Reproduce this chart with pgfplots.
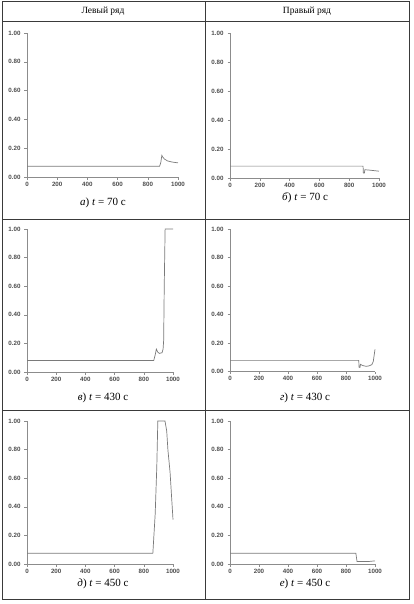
\documentclass[border=0pt]{standalone}
\usepackage{fontspec}
\setmainfont{Liberation Serif}
\newfontfamily\ticksf{Liberation Sans}
\usepackage{pgfplots}
\pgfplotsset{compat=1.18}

\definecolor{curve}{HTML}{7A7A7A}
\definecolor{axisgray}{HTML}{8C8C8C}
\definecolor{rule}{HTML}{3A3A3A}

\pgfplotsset{
  panel/.style={
    scale only axis,
    anchor=south west,
    xmin=0, xmax=1000, ymin=0, ymax=1,
    axis x line*=bottom, axis y line*=left,
    xtick={0,200,400,600,800,1000},
    ytick={0,0.2,0.4,0.6,0.8,1},
    tick align=outside,
    major tick length=2.5pt,
    axis line style={axisgray, line width=0.7pt},
    every tick/.style={axisgray, line width=0.5pt},
    /pgf/number format/assume math mode=true,
    tick label style={font=\ticksf\fontsize{6.2}{7}\selectfont\bfseries, text=black!70},
    x tick label style={/pgf/number format/1000 sep={}, yshift=1pt},
    y tick label style={/pgf/number format/.cd, fixed, fixed zerofill, precision=2, /tikz/.cd, xshift=-0.5pt},
    clip=false,
  },
  prof/.style={curve, line width=0.7pt},
}

\begin{document}
\begin{tikzpicture}
\path[use as bounding box] (0,0) rectangle (413pt,-604pt);

% table rules
\draw[rule, line width=0.7pt] (2.5pt,-1.5pt) rectangle (409pt,-599pt);
\draw[rule, line width=0.7pt] (205pt,-1.5pt) -- (205pt,-599pt);
\draw[rule, line width=0.7pt] (2.5pt,-21pt) -- (409pt,-21pt);
\draw[rule, line width=0.7pt] (2.5pt,-219.5pt) -- (409pt,-219.5pt);
\draw[rule, line width=0.7pt] (2.5pt,-410pt) -- (409pt,-410pt);

\node[font=\fontsize{9.5}{11}\selectfont] at (103pt,-11pt) {Левый ряд};
\node[font=\fontsize{9.5}{11}\selectfont] at (307pt,-11pt) {Правый ряд};

% а) left, t = 70 s
\begin{axis}[panel, at={(27pt,-177pt)}, width=151pt, height=144pt]
\addplot[prof] coordinates {
  (0,0.075) (878,0.075) (886,0.10) (893,0.15) (898,0.14) (910,0.125)
  (930,0.112) (960,0.104) (1000,0.098)
};
\end{axis}

% б) right, t = 70 s
\begin{axis}[panel, at={(230pt,-178pt)}, width=149pt, height=145pt]
\addplot[prof] coordinates {
  (0,0.082) (893,0.082) (895,0.034) (902,0.034) (905,0.057)
  (930,0.055) (1000,0.047)
};
\end{axis}

% в) left, t = 430 s
\begin{axis}[panel, at={(27pt,-372pt)}, width=146pt, height=143pt]
\addplot[prof] coordinates {
  (0,0.08) (868,0.08) (878,0.12) (886,0.16) (895,0.14) (906,0.13)
  (925,0.135) (932,0.16) (936,0.22) (940,0.6) (946,1.0) (1000,1.0)
};
\end{axis}

% г) right, t = 430 s
\begin{axis}[panel, at={(230pt,-371.5pt)}, width=145pt, height=142.5pt]
\addplot[prof] coordinates {
  (0,0.078) (888,0.078) (890,0.03) (896,0.028) (900,0.05) (915,0.042)
  (940,0.036) (960,0.04) (978,0.048) (988,0.07) (1000,0.155)
};
\end{axis}

% д) left, t = 450 s
\begin{axis}[panel, at={(27pt,-564pt)}, width=146pt, height=143pt]
\addplot[prof] coordinates {
  (0,0.075) (862,0.075) (878,0.35) (889,0.68) (896,1.0) (945,1.0)
  (957,0.93) (965,0.8) (980,0.64) (1000,0.31)
};
\end{axis}

% е) right, t = 450 s
\begin{axis}[panel, at={(230pt,-564pt)}, width=145pt, height=143pt]
\addplot[prof] coordinates {
  (0,0.075) (868,0.075) (876,0.018) (960,0.018) (1000,0.022)
};
\end{axis}

% captions
\tikzset{captxt/.style={font=\fontsize{11}{13}\selectfont}}
\node[captxt] at (103pt,-203pt) {\textit{а}) \textit{t}~=~70 с};
\node[captxt] at (305pt,-198pt) {\textit{б}) \textit{t}~=~70 с};
\node[captxt] at (103pt,-398pt) {\textit{в}) \textit{t}~=~430 с};
\node[captxt] at (305pt,-398pt) {\textit{г}) \textit{t}~=~430 с};
\node[captxt] at (103pt,-584pt) {\textit{д}) \textit{t}~=~450 с};
\node[captxt] at (305pt,-584pt) {\textit{е}) \textit{t}~=~450 с};
\end{tikzpicture}
\end{document}
